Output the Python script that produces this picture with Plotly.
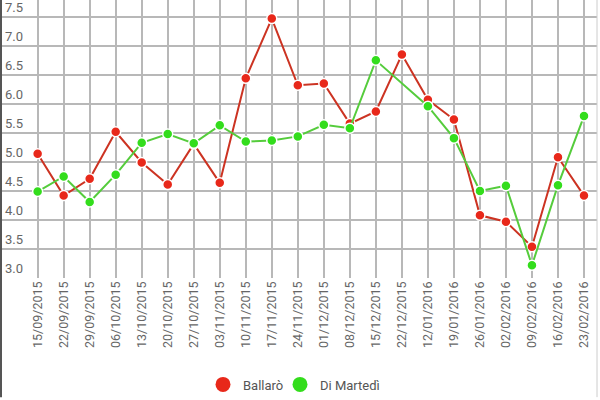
"""
Ballarò vs Di Martedì - weekly share line chart
"""

import plotly.graph_objects as go

dates = [
    '15/09/2015', '22/09/2015', '29/09/2015', '06/10/2015', '13/10/2015',
    '20/10/2015', '27/10/2015', '03/11/2015', '10/11/2015', '17/11/2015',
    '24/11/2015', '01/12/2015', '08/12/2015', '15/12/2015', '22/12/2015',
    '12/01/2016', '19/01/2016', '26/01/2016', '02/02/2016', '09/02/2016',
    '16/02/2016', '23/02/2016'
]

ballaro = [
    5.14, 4.42, 4.71, 5.52, 4.99, 4.61, 5.31, 4.64, 6.44, 7.47, 6.32,
    6.35, 5.66, 5.87, 6.85, 6.07, 5.73, 4.08, 3.97, 3.54, 5.08, 4.42
]

di_martedi = [
    4.49, 4.75, 4.31, 4.78, 5.33, 5.48, 5.32, 5.63, 5.35, 5.37, 5.44,
    5.64, 5.58, 6.75, None, 5.96, 5.41, 4.50, 4.59, 3.22, 4.60, 5.79
]

RED_LINE = '#cc3322'
RED_DOT = '#e8281a'
GREEN_LINE = '#55cc3c'
GREEN_DOT = '#33dd1c'

PLOT_W = 595  # plot area width in px (600 - l - r)

fig = go.Figure()

# Lines with dots
fig.add_trace(go.Scatter(
    x=dates, y=ballaro,
    mode='lines+markers',
    name='Ballarò',
    line=dict(color=RED_LINE, width=2),
    marker=dict(color=RED_DOT, size=10, line=dict(color='white', width=1.5)),
    showlegend=False
))

fig.add_trace(go.Scatter(
    x=dates, y=di_martedi,
    mode='lines+markers',
    name='Di Martedì',
    connectgaps=True,
    line=dict(color=GREEN_LINE, width=2),
    marker=dict(color=GREEN_DOT, size=10, line=dict(color='white', width=1.5)),
    showlegend=False
))

# Legend entries (dots only), one legend each so the spacing can be tight
fig.add_trace(go.Scatter(
    x=[None], y=[None], mode='markers', name='Ballarò',
    marker=dict(color=RED_DOT, size=15), legend='legend'
))
fig.add_trace(go.Scatter(
    x=[None], y=[None], mode='markers', name='Di Martedì',
    marker=dict(color=GREEN_DOT, size=15), legend='legend2'
))

# Frame lines at left and right edges
fig.add_shape(type='line', xref='paper', yref='paper',
              x0=-1 / PLOT_W, x1=-1 / PLOT_W, y0=-120 / 280, y1=1,
              line=dict(color='#555555', width=2))
fig.add_shape(type='line', xref='paper', yref='paper',
              x0=1, x1=1, y0=-120 / 280, y1=1,
              line=dict(color='#cccccc', width=1))

legend_style = dict(
    orientation='h',
    xanchor='left',
    y=-0.383, yanchor='middle',
    itemsizing='trace',
    bgcolor='rgba(0,0,0,0)',
    font=dict(size=13, color='#555555')
)

fig.update_layout(
    width=600,
    height=400,
    paper_bgcolor='white',
    plot_bgcolor='white',
    font=dict(family='Roboto, Arial', color='#666666', size=13),
    margin=dict(l=2, r=3, t=0, b=120),
    legend=dict(x=(223 - 2 - 20) / PLOT_W, **legend_style),
    legend2=dict(x=(300 - 2 - 20) / PLOT_W, **legend_style)
)

fig.update_xaxes(
    type='category',
    range=[-1.37, 21.5],
    tickangle=-90,
    showgrid=True,
    gridcolor='#b8b8b8',
    gridwidth=1.5,
    showline=False,
    zeroline=False,
    tickfont=dict(size=12.5, color='#666666')
)

fig.update_yaxes(
    range=[3, 7.79],
    dtick=0.5,
    tick0=3,
    tickformat='.1f',
    ticklabelposition='inside top',
    showgrid=True,
    gridcolor='#b8b8b8',
    gridwidth=1.5,
    zeroline=False,
    showline=False,
    tickfont=dict(size=13, color='#666666')
)

# page body has a default 8px margin; drop it so the chart sits at 0,0
fig.write_html(
    "out.html",
    config={'displayModeBar': False},
    post_script="document.body.style.margin='0';"
)
